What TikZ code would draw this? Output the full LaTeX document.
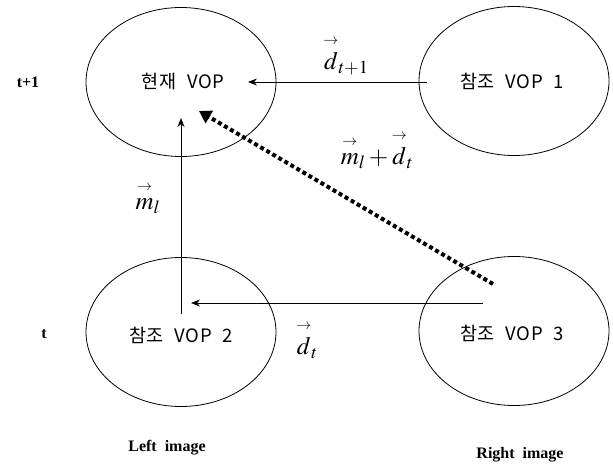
\documentclass[tikz,border=0pt]{standalone}
\usepackage{amsmath}
\usepackage{mathptmx}
\usepackage{fontspec}
\newfontfamily\kfont[LetterSpace=4,WordSpace=2.2]{Noto Sans CJK KR}
\newfontfamily\tfont{Liberation Serif}
\usetikzlibrary{arrows.meta,shapes.geometric}
% vector with a small arrow set well above the letter
\newcommand\vecarr[1]{\overset{\raisebox{3pt}{$\scriptscriptstyle\rightarrow$}}{#1}}
\tikzset{
  vop/.style={draw, line width=0.8pt, ellipse, minimum width=190pt, minimum height=149pt, inner sep=0pt},
  vtxt/.style={font=\kfont\fontsize{18.5}{20}\selectfont},
  side/.style={font=\tfont\bfseries\fontsize{16}{18}\selectfont},
  mv/.style={font=\fontsize{25}{27}\selectfont, inner sep=1pt},
  conn/.style={line width=0.8pt, -{Stealth[length=9pt,width=7pt]}},
  dotconn/.style={line width=4pt, dash pattern=on 4pt off 3pt, -{Triangle[length=12pt,width=14pt]}},
}
\begin{document}
\begin{tikzpicture}[x=1pt,y=-1pt]
\useasboundingbox (0,0) rectangle (613,468);
% four VOP ellipses
\node[vop] (cur) at (181,82) {};
\node[vop] (r1) at (514,81) {};
\node[vop] (r2) at (181,332) {};
\node[vop] (r3) at (514,331) {};
\node[vtxt] (tcur) at (183,82) {현재 VOP};
\node[vtxt] (tr1) at (512,81) {참조 VOP 1};
\node[vtxt] (tr2) at (181,335) {참조 VOP 2};
\node[vtxt] (tr3) at (512,333) {참조 VOP 3};
% time labels
\node[side] (tp) at (28,82) {t+1};
\node[side] (tt) at (44,334) {t};
\node[side] (li) at (167,448) {Left\ \ image};
\node[side] (ri) at (520,455) {Right\ \ image};
% connector anchors
\coordinate (a1s) at (427,82);
\coordinate (a1e) at (248,82);
\coordinate (a2s) at (181,314);
\coordinate (a2e) at (181,118);
\coordinate (a3s) at (483,303);
\coordinate (a3e) at (191,303);
\coordinate (a4s) at (493,284);
\coordinate (a4e) at (199,111);
\draw[conn] (a1s) -- (a1e);
\draw[conn] (a2s) -- (a2e);
\draw[conn] (a3s) -- (a3e);
\draw[dotconn] (a4s) -- (a4e);
% vector labels
\node[mv] (ld1) at (346,56) {$\vecarr{d}_{t+1}$};
\node[mv] (lmd) at (377,150) {$\vecarr{m}_l + \vecarr{d}_t$};
\node[mv] (lm) at (148,198) {$\vecarr{m}_l$};
\node[mv] (ld) at (307,340) {$\vecarr{d}_t$};
\end{tikzpicture}
\end{document}
